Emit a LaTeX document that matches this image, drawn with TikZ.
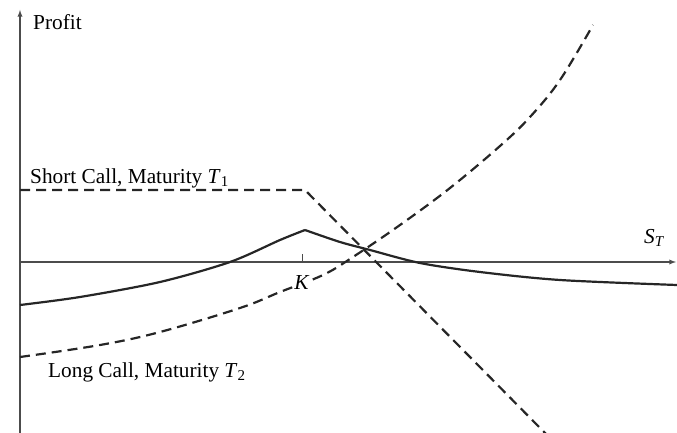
\documentclass[tikz,border=0pt]{standalone}
\usepackage{fontspec}
\setmainfont{Liberation Serif}
\usetikzlibrary{positioning}
\tikzset{
  axisline/.style={draw=black!70, line width=1.3pt},
  payoff/.style={draw=black!85, line width=2.2pt},
  payoffdash/.style={payoff, dash pattern=on 10pt off 6pt},
  lbl/.style={font=\fontsize{21.3}{25}\selectfont, inner sep=0pt}
}
\newcommand{\subnum}[1]{\raisebox{-0.3ex}{\fontsize{15}{15}\selectfont #1}}
\begin{document}
\begin{tikzpicture}[x=1pt,y=-1pt]
    \useasboundingbox (0,0) rectangle (677,433);

    % axes
    \coordinate (ybot) at (20,433);
    \coordinate (ytop) at (20,10);
    \coordinate (xleft) at (20,262);
    \coordinate (xright) at (676,262);
    \draw[axisline,-latex] (ybot) -- (ytop);
    \draw[axisline,-latex] (xleft) -- (xright);
    \node[lbl, anchor=west] (profit) at (33,22) {Profit};
    \node[lbl, anchor=west] (st) at (644,238) {\textit{S}\subnum{\textit{T}}};

    % strike
    \coordinate (kaxis) at (302,262);
    \coordinate (ktick) at (302,254);
    \draw[axisline, line width=1pt] (kaxis) -- (ktick);

    % short call, maturity T1
    \coordinate (sc0) at (20,190);
    \coordinate (sc1) at (305,190);
    \coordinate (sc2) at (548,436);
    \draw[payoffdash] (sc0) -- (sc1) -- (sc2);
    \node[lbl, anchor=west] (sclbl) at (30,178) {Short Call, Maturity \textit{T}\subnum{1}};

    % long call, maturity T2
    \draw[payoffdash] plot[smooth, tension=0.6] coordinates {
        (20,357) (100,345) (160,332) (240,308) (280,292) (323,275) (353,257)
        (400,225) (450,188) (500,146) (530,117) (560,80) (593,25)};
    \node[lbl, anchor=west] (lclbl) at (48,372) {Long Call, Maturity \textit{T}\subnum{2}};
    \node[lbl, fill=white, inner sep=1.5pt] (k) at (302,283) {\textit{K}};

    % calendar spread profit
    \draw[payoff] plot[smooth, tension=0.5] coordinates {
        (20,305) (80,297) (160,282) (230,262) (280,240) (305,230)};
    \draw[payoff] plot[smooth, tension=0.5] coordinates {
        (305,230) (340,242) (370,250) (420,263) (480,272) (560,280) (677,285)};
\end{tikzpicture}
\end{document}
